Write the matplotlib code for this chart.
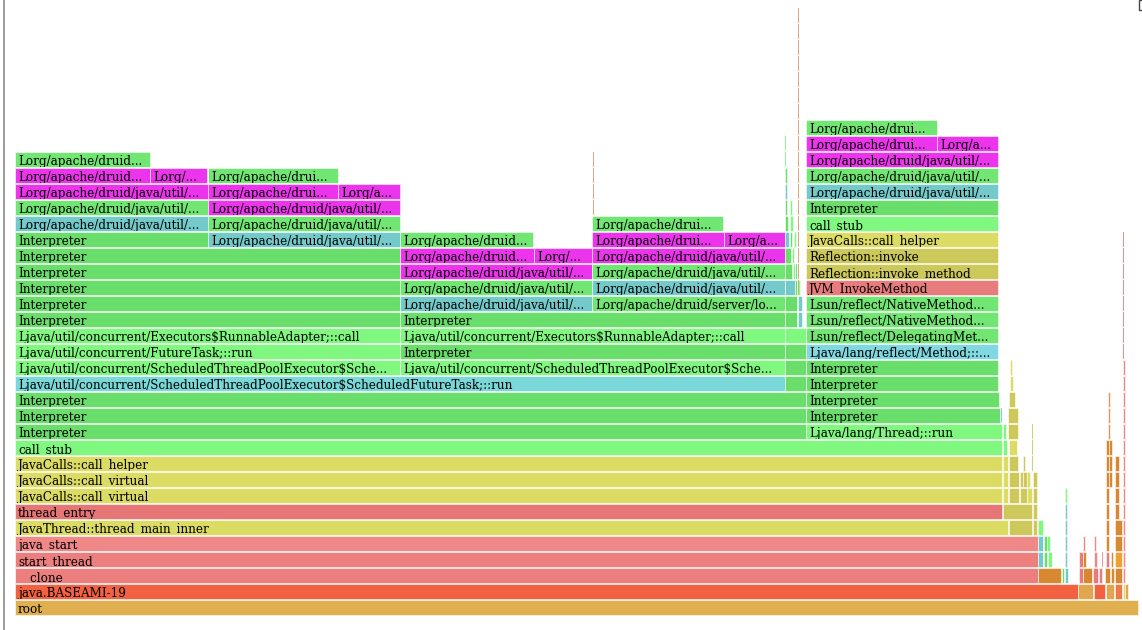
import matplotlib
matplotlib.use("Agg")
import matplotlib.pyplot as plt
from matplotlib.patches import Rectangle

# flame graph frames: (depth, first sample, last sample, label, colour group)
# samples counted from the left edge of "root"; labels are as displayed (already cut)

thread_stack = [
    (0, 0, 1123, "root", "root"),
    (1, 0, 1063, "java.BASEAMI-19", "jthread"),
    (2, 0, 1023, "__clone", "red3"),
    (3, 0, 1023, "start_thread", "red3"),
    (4, 0, 1023, "java_start", "pink"),
    (5, 0, 993, "JavaThread::thread_main_inner", "yellow"),
    (6, 0, 987, "thread_entry", "red2"),
    (7, 0, 987, "JavaCalls::call_virtual", "yellow"),
    (8, 0, 987, "JavaCalls::call_virtual", "yellow"),
    (9, 0, 987, "JavaCalls::call_helper", "yellow"),
    (10, 0, 987, "call_stub", "lgreen"),
    (11, 0, 791, "Interpreter", "green"),
    (12, 0, 791, "Interpreter", "green"),
    (13, 0, 791, "Interpreter", "green"),
    (14, 0, 770, "Ljava/util/concurrent/ScheduledThreadPoolExecutor$ScheduledFutureTask;::run", "cyan_l"),
]

executor_frames = [
    (15, 0, 385, "Ljava/util/concurrent/ScheduledThreadPoolExecutor$Sche...", "lgreen"),
    (15, 385, 770, "Ljava/util/concurrent/ScheduledThreadPoolExecutor$Sche...", "lgreen"),
    (16, 0, 385, "Ljava/util/concurrent/FutureTask;::run", "lgreen"),
    (16, 385, 770, "Interpreter", "green"),
    (17, 0, 385, "Ljava/util/concurrent/Executors$RunnableAdapter;::call", "lgreen"),
    (17, 385, 770, "Ljava/util/concurrent/Executors$RunnableAdapter;::call", "lgreen"),
    (18, 0, 385, "Interpreter", "green"),
    (18, 385, 770, "Interpreter", "green"),
    (19, 0, 385, "Interpreter", "green"),
    (19, 385, 577, "Lorg/apache/druid/java/util/...", "cyan"),
    (19, 577, 770, "Lorg/apache/druid/server/lo...", "green2"),
    (20, 0, 385, "Interpreter", "green"),
    (20, 385, 577, "Lorg/apache/druid/java/util/...", "green2"),
    (20, 577, 770, "Lorg/apache/druid/java/util/...", "cyan"),
    (21, 0, 385, "Interpreter", "green"),
    (21, 385, 577, "Lorg/apache/druid/java/util/...", "magenta"),
    (21, 577, 770, "Lorg/apache/druid/java/util/...", "green2"),
    (22, 0, 385, "Interpreter", "green"),
    (22, 385, 519, "Lorg/apache/druid...", "magenta"),
    (22, 519, 577, "Lorg/...", "magenta"),
    (22, 577, 770, "Lorg/apache/druid/java/util/...", "magenta"),
    (23, 0, 193, "Interpreter", "green"),
    (23, 193, 385, "Lorg/apache/druid/java/util/...", "cyan"),
    (23, 385, 518, "Lorg/apache/druid...", "green2"),
    (23, 577, 709, "Lorg/apache/drui...", "magenta"),
    (23, 709, 770, "Lorg/a...", "magenta"),
    (24, 0, 193, "Lorg/apache/druid/java/util/...", "cyan"),
    (24, 193, 385, "Lorg/apache/druid/java/util/...", "green2"),
    (24, 577, 708, "Lorg/apache/drui...", "green2"),
    (25, 0, 193, "Lorg/apache/druid/java/util/...", "green2"),
    (25, 193, 385, "Lorg/apache/druid/java/util/...", "magenta"),
    (26, 0, 193, "Lorg/apache/druid/java/util/...", "magenta"),
    (26, 193, 323, "Lorg/apache/drui...", "magenta"),
    (26, 323, 385, "Lorg/a...", "magenta"),
    (27, 0, 135, "Lorg/apache/druid...", "magenta"),
    (27, 135, 192, "Lorg/...", "magenta"),
    (27, 193, 323, "Lorg/apache/drui...", "green2"),
    (28, 0, 135, "Lorg/apache/druid...", "green2"),
]

thread_run_frames = [
    (11, 791, 987, "Ljava/lang/Thread;::run", "lgreen"),
    (12, 791, 985, "Interpreter", "green"),
    (13, 791, 984, "Interpreter", "green"),
    (14, 791, 983, "Interpreter", "green"),
    (15, 791, 983, "Interpreter", "green"),
    (16, 791, 983, "Ljava/lang/reflect/Method;::...", "cyan2"),
    (17, 791, 983, "Lsun/reflect/DelegatingMet...", "green2"),
    (18, 791, 983, "Lsun/reflect/NativeMethod...", "green2"),
    (19, 791, 983, "Lsun/reflect/NativeMethod...", "green2"),
    (20, 791, 983, "JVM_InvokeMethod", "red"),
    (21, 791, 983, "Reflection::invoke_method", "olive"),
    (22, 791, 983, "Reflection::invoke", "olive"),
    (23, 791, 983, "JavaCalls::call_helper", "yellow"),
    (24, 791, 983, "call_stub", "lgreen"),
    (25, 791, 983, "Interpreter", "green"),
    (26, 791, 983, "Lorg/apache/druid/java/util/...", "cyan"),
    (27, 791, 983, "Lorg/apache/druid/java/util/...", "green2"),
    (28, 791, 983, "Lorg/apache/druid/java/util/...", "magenta"),
    (29, 791, 922, "Lorg/apache/drui...", "magenta"),
    (29, 922, 983, "Lorg/a...", "magenta"),
    (30, 791, 922, "Lorg/apache/drui...", "green2"),
]

# narrow column between the two executor blocks and the Thread.run block
middle_frames = [
    (14, 770, 791, "", "green"),
    (15, 770, 791, "", "green"),
    (16, 770, 791, "", "green"),
    (17, 770, 791, "", "lgreen"),
    (18, 770, 782, "", "green"), (18, 783, 787, "", "cyan"),
    (19, 770, 782, "", "green"), (19, 783, 787, "", "cyan"),
    (20, 770, 780, "", "cyan"), (20, 780, 782, "", "green"), (20, 783, 785, "", "lgreen"),
    (21, 770, 777, "", "green"), (21, 778, 780, "", "lgreen"), (21, 781, 782, "", "green"),
    (22, 770, 776, "", "green"), (22, 777, 779, "", "lgreen"),
    (23, 770, 774, "", "cyan"), (23, 775, 777, "", "green"), (23, 779, 781, "", "lgreen"),
    (24, 770, 773, "", "green"), (24, 775, 778, "", "lgreen"),
    (25, 770, 772, "", "green"), (25, 775, 777, "", "lgreen"),
    (26, 770, 772, "", "cyan"),
    (27, 770, 772, "", "green"),
    (28, 770, 771, "", "lgreen"),
    (29, 770, 771, "", "lgreen"),
]

# frames on the right of the main thread
tail_frames = [
    (1, 1063, 1078, "", "lorange"), (1, 1079, 1090, "", "jthread"),
    (1, 1091, 1099, "", "lorange"), (1, 1100, 1107, "", "orange2"),
    (1, 1108, 1110, "", "yellow"), (1, 1110, 1113, "", "lorange"),
    (2, 1023, 1046, "", "orange"), (2, 1047, 1049, "", "green"), (2, 1050, 1053, "", "cyan"),
    (2, 1064, 1068, "", "red"), (2, 1068, 1077, "", "orange"), (2, 1078, 1083, "", "red"),
    (2, 1084, 1087, "", "red"), (2, 1090, 1095, "", "orange"), (2, 1096, 1099, "", "orange"),
    (2, 1100, 1107, "", "orange"), (2, 1108, 1110, "", "pink"),
    (3, 1023, 1028, "", "cyan"), (3, 1029, 1032, "", "green"), (3, 1033, 1037, "", "lgreen"),
    (3, 1050, 1052, "", "cyan"), (3, 1064, 1068, "", "red"), (3, 1068, 1071, "", "orange"),
    (3, 1079, 1082, "", "pink"), (3, 1087, 1088, "", "pink"), (3, 1091, 1094, "", "red"),
    (3, 1096, 1098, "", "orange"), (3, 1100, 1107, "", "borange"), (3, 1108, 1110, "", "pink"),
    (4, 1023, 1028, "", "cyan"), (4, 1029, 1032, "", "green"), (4, 1032, 1035, "", "lgreen"),
    (4, 1050, 1052, "", "cyan"), (4, 1068, 1070, "", "pink"), (4, 1079, 1081, "", "pink"),
    (4, 1091, 1094, "", "orange"), (4, 1100, 1107, "", "orange"), (4, 1108, 1110, "", "pink"),
    (5, 994, 1017, "", "olive"), (5, 1018, 1022, "", "olive"), (5, 1023, 1028, "", "lgreen"),
    (5, 1050, 1052, "", "cyan"), (5, 1091, 1094, "", "orange"), (5, 1100, 1107, "", "orange"),
    (5, 1108, 1110, "", "pink"),
    (6, 988, 1017, "", "olive"), (6, 1018, 1022, "", "olive"), (6, 1050, 1052, "", "cyan"),
    (6, 1091, 1094, "", "orange"), (6, 1100, 1104, "", "orange"), (6, 1108, 1110, "", "pink"),
    (7, 988, 993, "", "yellow"), (7, 994, 1004, "", "olive"), (7, 1005, 1012, "", "olive"),
    (7, 1012, 1017, "", "yellow"), (7, 1018, 1022, "", "olive"), (7, 1050, 1052, "", "lgreen"),
    (7, 1091, 1094, "", "orange"), (7, 1100, 1104, "", "orange"), (7, 1108, 1110, "", "pink"),
    (8, 988, 993, "", "yellow"), (8, 994, 1004, "", "olive"), (8, 1005, 1008, "", "olive"),
    (8, 1008, 1012, "", "olive"), (8, 1012, 1015, "", "yellow"), (8, 1018, 1022, "", "olive"),
    (8, 1091, 1094, "", "orange"), (8, 1094, 1097, "", "orange"), (8, 1100, 1104, "", "orange"),
    (8, 1108, 1110, "", "pink"),
    (9, 988, 993, "", "yellow"), (9, 994, 1003, "", "olive"), (9, 1008, 1010, "", "olive"),
    (9, 1017, 1018, "", "olive"), (9, 1091, 1094, "", "orange"), (9, 1094, 1097, "", "orange"),
    (9, 1100, 1104, "", "orange"), (9, 1108, 1110, "", "pink"),
    (10, 988, 992, "", "lgreen"), (10, 994, 1002, "", "yellow"), (10, 1017, 1018, "", "olive"),
    (10, 1091, 1094, "", "orange"), (10, 1094, 1097, "", "orange"), (10, 1108, 1110, "", "pink"),
    (11, 988, 991, "", "lgreen"), (11, 993, 1003, "", "olive"), (11, 1017, 1018, "", "olive"),
    (11, 1093, 1095, "", "spike"), (11, 1108, 1110, "", "pink"),
    (12, 986, 987, "", "cyan"), (12, 993, 1003, "", "olive"), (12, 1093, 1095, "", "spike"),
    (12, 1108, 1110, "", "pink"),
    (13, 994, 1000, "", "olive"), (13, 1093, 1095, "", "spike"), (13, 1108, 1110, "", "pink"),
    (14, 995, 998, "", "yellow"), (14, 1108, 1110, "", "pink"),
    (15, 995, 997, "", "yellow"), (15, 1108, 1110, "", "pink"),
]

# one-sample-wide towers
spike_frames = (
    [(d, 783, 784, "", "spike") for d in range(20, 38)]
    + [(d, 578, 579, "", "spike") for d in range(25, 29)]
    + [(d, 1108, 1109, "", "red") for d in range(16, 24)]
)

palette = {
    "root": "#e0b050", "jthread": "#f26240", "red3": "#ec7e7e", "pink": "#f08888",
    "red2": "#e67676", "red": "#e87c7c", "yellow": "#dcdc64", "olive": "#cdc85a",
    "lgreen": "#80f880", "green": "#6ade6a", "green2": "#72e672", "cyan": "#74caca",
    "cyan_l": "#7ad8d8", "cyan2": "#80d8e0", "magenta": "#ec34ec", "orange": "#d88830",
    "lorange": "#e0a650", "orange2": "#ee7a48", "borange": "#f0a030", "spike": "#d89a68",
}

all_frames = thread_stack + executor_frames + thread_run_frames + middle_frames + tail_frames + spike_frames

fig = plt.figure(figsize=(11.42, 6.30), dpi=100)
ax = fig.add_axes([0, 0, 1, 1])
ax.set_xlim(-15, 1127)
ax.set_ylim(-15 / 16, 615 / 16)
ax.axis("off")

row_h = 15 / 16
for depth, start, end, label, group in all_frames:
    thin = (end - start) <= 1
    rect = Rectangle((start, depth), end - start, row_h, facecolor=palette[group],
                     edgecolor=(1, 1, 1, 0.35 if thin else 0.65), linewidth=0.3 if thin else 0.6)
    ax.add_patch(rect)
    if label:
        t = ax.text(start + 3, depth + 2 / 16, label, fontsize=8.65, family="DejaVu Serif",
                    color="black", va="baseline", ha="left", clip_on=True)
        t.set_clip_path(Rectangle((start, depth), end - start, row_h, transform=ax.transData))

# page chrome: left border line and the corner of a button at the top right
fig.add_artist(plt.Line2D([3.5 / 1142, 3.5 / 1142], [0, 1], color="#8a8a8a", lw=1.2))
fig.add_artist(Rectangle((1139 / 1142, 1 - 10 / 630), 8 / 1142, 10 / 630, transform=fig.transFigure,
                         facecolor="white", edgecolor="#444444", lw=1.0))

fig.savefig("out.png", dpi=100)
